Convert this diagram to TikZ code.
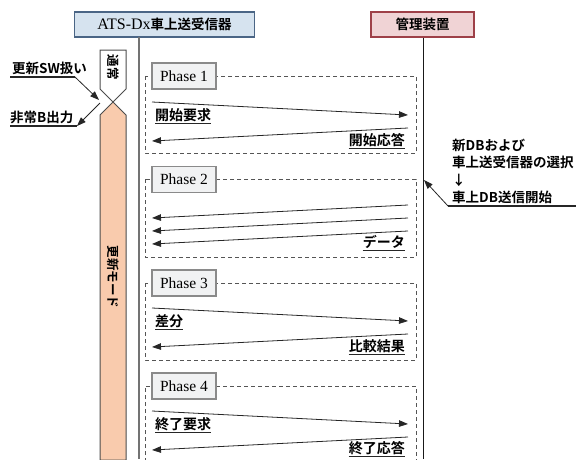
\documentclass[tikz,border=0pt]{standalone}
\usepackage{fontspec}
\setmainfont{Liberation Serif}
\newfontfamily\jp{Noto Sans CJK JP}[BoldFont={Noto Sans CJK JP Bold}]
\usetikzlibrary{arrows.meta}
\definecolor{hdrAfill}{HTML}{D6E3EF}
\definecolor{hdrAline}{HTML}{4A6585}
\definecolor{hdrBfill}{HTML}{F0D3D5}
\definecolor{hdrBline}{HTML}{9E4048}
\definecolor{modefill}{HTML}{F9CBAD}
\definecolor{dashcol}{HTML}{555555}
\definecolor{phfill}{HTML}{F1F2F3}
\definecolor{phline}{HTML}{8A8A8A}
\begin{document}
\begin{tikzpicture}[x=1pt,y=-1pt,
  lbl/.style={font=\jp\bfseries\fontsize{13.5}{16}\selectfont, inner sep=0pt},
  mlbl/.style={font=\jp\bfseries\fontsize{14}{16}\selectfont, inner sep=0pt},
  rlbl/.style={font=\jp\bfseries\fontsize{13.5}{16}\selectfont, inner sep=0pt, anchor=base west},
  msg/.style={-{Triangle[length=9pt,width=6.5pt]}, line width=0.8pt, black!85},
  ul/.style={line width=1.3pt, black!85},
  phbox/.style={draw=dashcol, line width=1pt, dash pattern=on 4pt off 3pt},
  phlabel/.style={draw=phline, fill=phfill, line width=1.2pt, minimum width=64pt, minimum height=26pt, inner sep=0pt, font=\fontsize{15.5}{17}\selectfont},
  vtext/.style={font=\jp\bfseries\fontsize{12.5}{14}\selectfont, rotate=-90, inner sep=0pt}
]
\useasboundingbox (0,0) rectangle (576,459);

% headers
\node[draw=hdrAline, fill=hdrAfill, line width=1.2pt, minimum width=180pt, minimum height=25pt, inner sep=0pt] (ats) at (164.5,24.5)
  {{\fontsize{16}{18}\selectfont ATS-Dx}{\jp\bfseries\fontsize{13.5}{16}\selectfont 車上送受信器}};
\node[draw=hdrBline, fill=hdrBfill, line width=1.2pt, minimum width=103pt, minimum height=25pt, inner sep=0pt, font=\jp\bfseries\fontsize{13.5}{16}\selectfont] (mgr) at (422.5,24.5) {管理装置};

% lifelines
\coordinate (lA0) at (139,37);
\coordinate (lA1) at (139,459);
\draw[black!55, line width=1.8pt] (lA0) -- (lA1);
\coordinate (lB1) at (423,459);
\draw[black!90, line width=1pt] (mgr.south -| lB1) -- (lB1);

% mode bar
\draw[black!70, line width=1pt, fill=modefill] (113,102) -- (126,115) -- (126,460) -- (100,460) -- (100,115) -- cycle;
\draw[black!70, line width=1pt, fill=white] (100,50) -- (126,50) -- (126,89) -- (113,102) -- (100,89) -- cycle;
\node[vtext] (tsujo) at (113,67) {通常};
\node[vtext] (koshin) at (113,277) {更新モード};

% left annotations
\node[lbl, anchor=base west] (swl) at (12,73) {更新SW扱い};
\coordinate (sw0) at (10,77);
\coordinate (sw1) at (75,77);
\coordinate (swt) at (99,100);
\draw[ul] (sw0) -- (sw1);
\draw[msg] (sw1) -- (swt);
\node[lbl, anchor=base west] (hbl) at (10,122) {非常B出力};
\coordinate (hb0) at (10,126);
\coordinate (hb1) at (77,126);
\coordinate (hbs) at (100,103);
\draw[ul] (hb0) -- (hb1);
\draw[msg] (hbs) -- (hb1);

% right annotation
\node[rlbl] (r1) at (452,150) {新DBおよび};
\node[rlbl] (r2) at (452,167) {車上送受信器の選択};
\node[rlbl] (r3) at (452,185) {↓};
\node[rlbl] (r4) at (452,202) {車上DB送信開始};
\coordinate (ru0) at (576,206);
\coordinate (ru1) at (448,206);
\coordinate (rut) at (424,180);
\draw[ul] (ru0) -- (ru1);
\draw[msg] (ru1) -- (rut);

% Phase boxes
\draw[phbox] (145,76) rectangle (416,153);
\draw[phbox] (145,179) rectangle (416,257);
\draw[phbox] (145,283) rectangle (416,360);
\draw[phbox] (145,462) -- (145,386) -- (416,386) -- (416,462);
\node[phlabel] (p1) at (184,76) {Phase 1};
\node[phlabel] (p2) at (184,179.5) {Phase 2};
\node[phlabel] (p3) at (184,283) {Phase 3};
\node[phlabel] (p4) at (184,386) {Phase 4};

% Phase 1 messages
\coordinate (m1a) at (152,102); \coordinate (m1b) at (408,115);
\draw[msg] (m1a) -- (m1b);
\coordinate (m2a) at (408,128); \coordinate (m2b) at (152,141);
\draw[msg] (m2a) -- (m2b);
\node[mlbl, anchor=base west] (t1) at (155,120) {開始要求};
\draw[ul] ([yshift=-3.5pt]t1.base west) -- ([yshift=-3.5pt]t1.base east);
\node[mlbl, anchor=base east] (t2) at (405,145) {開始応答};
\draw[ul] ([yshift=-3.5pt]t2.base west) -- ([yshift=-3.5pt]t2.base east);

% Phase 2 messages
\coordinate (m3a) at (408,205); \coordinate (m3b) at (152,218);
\coordinate (m4a) at (408,218); \coordinate (m4b) at (152,231);
\coordinate (m5a) at (408,231); \coordinate (m5b) at (152,244);
\draw[msg] (m3a) -- (m3b);
\draw[msg] (m4a) -- (m4b);
\draw[msg] (m5a) -- (m5b);
\node[mlbl, anchor=base east] (t3) at (405,247) {データ};
\draw[ul] ([yshift=-3.5pt]t3.base west) -- ([yshift=-3.5pt]t3.base east);

% Phase 3 messages
\coordinate (m6a) at (152,308); \coordinate (m6b) at (408,321);
\draw[msg] (m6a) -- (m6b);
\coordinate (m7a) at (408,334); \coordinate (m7b) at (152,347);
\draw[msg] (m7a) -- (m7b);
\node[mlbl, anchor=base west] (t4) at (155,326) {差分};
\draw[ul] ([yshift=-3.5pt]t4.base west) -- ([yshift=-3.5pt]t4.base east);
\node[mlbl, anchor=base east] (t5) at (405,351) {比較結果};
\draw[ul] ([yshift=-3.5pt]t5.base west) -- ([yshift=-3.5pt]t5.base east);

% Phase 4 messages
\coordinate (m8a) at (152,411); \coordinate (m8b) at (408,424);
\draw[msg] (m8a) -- (m8b);
\coordinate (m9a) at (408,437); \coordinate (m9b) at (152,450);
\draw[msg] (m9a) -- (m9b);
\node[mlbl, anchor=base west] (t6) at (155,429) {終了要求};
\draw[ul] ([yshift=-3.5pt]t6.base west) -- ([yshift=-3.5pt]t6.base east);
\node[mlbl, anchor=base east] (t7) at (405,453) {終了応答};
\draw[ul] ([yshift=-3.5pt]t7.base west) -- ([yshift=-3.5pt]t7.base east);
\end{tikzpicture}
\end{document}
